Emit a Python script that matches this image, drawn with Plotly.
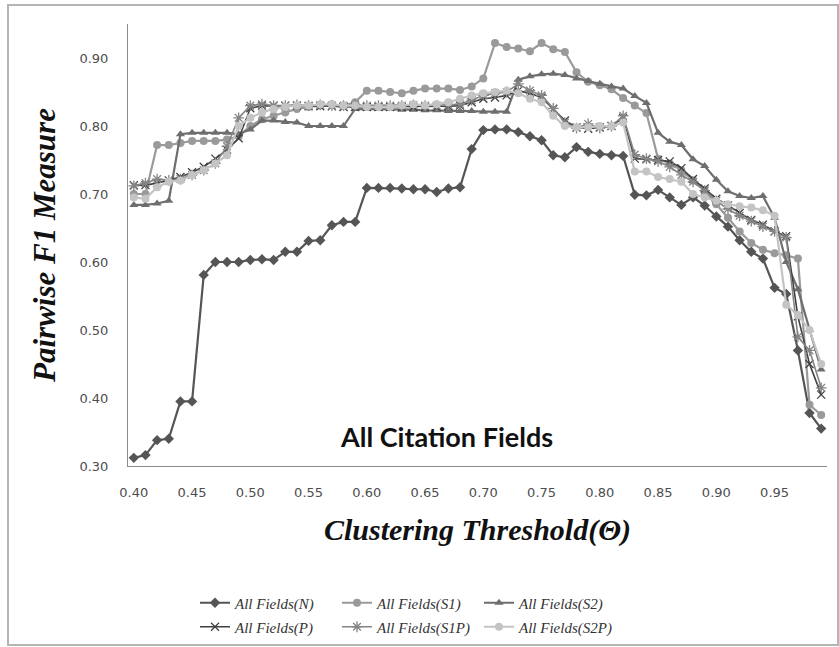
import plotly.graph_objects as go

thresholds = [0.40, 0.41, 0.42, 0.43, 0.44, 0.45, 0.46, 0.47, 0.48, 0.49,
              0.50, 0.51, 0.52, 0.53, 0.54, 0.55, 0.56, 0.57, 0.58, 0.59,
              0.60, 0.61, 0.62, 0.63, 0.64, 0.65, 0.66, 0.67, 0.68, 0.69,
              0.70, 0.71, 0.72, 0.73, 0.74, 0.75, 0.76, 0.77, 0.78, 0.79,
              0.80, 0.81, 0.82, 0.83, 0.84, 0.85, 0.86, 0.87, 0.88, 0.89,
              0.90, 0.91, 0.92, 0.93, 0.94, 0.95, 0.96, 0.97, 0.98, 0.99]

f1_N = [0.312, 0.316, 0.338, 0.340, 0.395, 0.395, 0.581, 0.600, 0.600, 0.600,
        0.603, 0.604, 0.603, 0.615, 0.615, 0.631, 0.632, 0.654, 0.659, 0.659,
        0.709, 0.709, 0.709, 0.708, 0.707, 0.707, 0.703, 0.708, 0.710, 0.766,
        0.794, 0.795, 0.795, 0.791, 0.785, 0.779, 0.757, 0.754, 0.769, 0.762,
        0.759, 0.757, 0.756, 0.699, 0.698, 0.706, 0.695, 0.684, 0.695, 0.683,
        0.667, 0.652, 0.632, 0.615, 0.605, 0.562, 0.553, 0.470, 0.378, 0.355]

f1_S1 = [0.700, 0.700, 0.772, 0.772, 0.775, 0.778, 0.778, 0.778, 0.780, 0.785,
         0.800, 0.810, 0.815, 0.820, 0.825, 0.828, 0.830, 0.832, 0.830, 0.835,
         0.852, 0.852, 0.850, 0.848, 0.852, 0.855, 0.855, 0.855, 0.853, 0.858,
         0.870, 0.922, 0.916, 0.914, 0.910, 0.922, 0.913, 0.909, 0.879, 0.865,
         0.860, 0.854, 0.841, 0.830, 0.819, 0.752, 0.745, 0.735, 0.720, 0.705,
         0.685, 0.665, 0.645, 0.628, 0.618, 0.613, 0.610, 0.605, 0.390, 0.375]

f1_S2 = [0.684, 0.684, 0.686, 0.690, 0.788, 0.790, 0.790, 0.790, 0.790, 0.788,
         0.795, 0.808, 0.808, 0.806, 0.805, 0.800, 0.800, 0.800, 0.800, 0.825,
         0.825, 0.825, 0.825, 0.824, 0.824, 0.823, 0.823, 0.822, 0.822, 0.822,
         0.821, 0.821, 0.821, 0.868, 0.873, 0.876, 0.877, 0.875, 0.870, 0.866,
         0.862, 0.858, 0.855, 0.844, 0.834, 0.790, 0.777, 0.772, 0.751, 0.741,
         0.721, 0.704, 0.697, 0.694, 0.697, 0.665, 0.600, 0.560, 0.500, 0.442]

f1_P = [0.713, 0.713, 0.716, 0.720, 0.725, 0.732, 0.740, 0.752, 0.765, 0.782,
        0.826, 0.830, 0.830, 0.830, 0.830, 0.829, 0.829, 0.829, 0.828, 0.828,
        0.828, 0.828, 0.828, 0.828, 0.828, 0.828, 0.828, 0.829, 0.830, 0.835,
        0.840, 0.842, 0.845, 0.852, 0.848, 0.842, 0.825, 0.808, 0.798, 0.796,
        0.798, 0.800, 0.812, 0.752, 0.751, 0.750, 0.748, 0.738, 0.722, 0.708,
        0.693, 0.683, 0.672, 0.662, 0.655, 0.645, 0.638, 0.520, 0.450, 0.405]

f1_S1P = [0.712, 0.716, 0.722, 0.720, 0.722, 0.728, 0.735, 0.745, 0.770, 0.812,
          0.830, 0.832, 0.830, 0.830, 0.831, 0.830, 0.831, 0.830, 0.830, 0.831,
          0.830, 0.830, 0.830, 0.830, 0.831, 0.830, 0.830, 0.831, 0.832, 0.838,
          0.845, 0.848, 0.850, 0.862, 0.852, 0.845, 0.826, 0.805, 0.797, 0.803,
          0.797, 0.800, 0.815, 0.758, 0.752, 0.748, 0.740, 0.728, 0.718, 0.705,
          0.690, 0.678, 0.668, 0.660, 0.652, 0.645, 0.636, 0.490, 0.470, 0.415]

f1_S2P = [0.695, 0.693, 0.710, 0.718, 0.720, 0.728, 0.735, 0.745, 0.757, 0.800,
          0.812, 0.820, 0.825, 0.828, 0.830, 0.830, 0.832, 0.832, 0.830, 0.830,
          0.828, 0.828, 0.828, 0.830, 0.832, 0.830, 0.832, 0.835, 0.840, 0.845,
          0.848, 0.850, 0.852, 0.848, 0.840, 0.835, 0.815, 0.800, 0.798, 0.798,
          0.800, 0.800, 0.805, 0.733, 0.733, 0.725, 0.722, 0.718, 0.700, 0.695,
          0.690, 0.685, 0.682, 0.680, 0.676, 0.668, 0.537, 0.522, 0.500, 0.450]

x_ticks = [0.40, 0.45, 0.50, 0.55, 0.60, 0.65, 0.70, 0.75, 0.80, 0.85, 0.90, 0.95]
y_ticks = [0.30, 0.40, 0.50, 0.60, 0.70, 0.80, 0.90]

series = [
    ("All Fields(N)", f1_N, "#555555", "diamond", 8, "legend"),
    ("All Fields(S1)", f1_S1, "#9a9a9a", "circle", 8, "legend"),
    ("All Fields(S2)", f1_S2, "#6e6e6e", "triangle-up", 8, "legend"),
    ("All Fields(P)", f1_P, "#404040", "x-thin-open", 8, "legend2"),
    ("All Fields(S1P)", f1_S1P, "#858585", "asterisk-open", 9, "legend2"),
    ("All Fields(S2P)", f1_S2P, "#c4c4c4", "circle", 8, "legend2"),
]

fig = go.Figure()
for name, ys, color, sym, size, leg in series:
    open_sym = sym.endswith("open")
    fig.add_trace(go.Scatter(
        x=thresholds, y=ys, name=name, mode="lines+markers",
        line=dict(color=color, width=2.2 if not open_sym else 1.6),
        marker=dict(symbol=sym, size=size, color=color,
                    line=dict(color=color, width=1.3 if open_sym else 0)),
        legend=leg,
    ))

legend_common = dict(
    orientation="h", xref="paper", yref="container", xanchor="left",
    yanchor="middle", entrywidth=97, entrywidthmode="pixels",
    font=dict(family="Liberation Serif", size=15, color="#333333", style="italic"),
    bgcolor="rgba(0,0,0,0)", itemwidth=30, tracegroupgap=0,
)

fig.update_layout(
    width=839, height=647,
    margin=dict(l=128, r=12, t=24, b=181),
    paper_bgcolor="white", plot_bgcolor="white",
    showlegend=True,
    legend=dict(x=(195 - 128) / 699, y=1 - 603 / 647, **legend_common),
    legend2=dict(x=(195 - 128) / 699, y=1 - 627 / 647, **legend_common),
    xaxis=dict(
        range=[0.395, 0.995], tickmode="array", tickvals=x_ticks,
        ticktext=[f"{v:.2f}" for v in x_ticks],
        showgrid=False, zeroline=False, showline=True, linecolor="#8c8c8c",
        linewidth=1, ticks="", ticklabelstandoff=14,
        tickfont=dict(family="DejaVu Sans", size=13, color="#4d4d4d"),
        title=dict(text="<b><i>Clustering Threshold(Θ)</i></b>", standoff=20,
                   font=dict(family="Liberation Serif", size=30, color="#111111")),
    ),
    yaxis=dict(
        range=[0.30, 0.95], tickmode="array", tickvals=y_ticks,
        ticktext=[f"{v:.2f}" for v in y_ticks],
        showgrid=False, zeroline=False, showline=True, linecolor="#8c8c8c",
        linewidth=1, ticks="", ticklabelstandoff=16,
        tickfont=dict(family="DejaVu Sans", size=13, color="#4d4d4d"),
        title=dict(text="<b><i>Pairwise F1 Measure</i></b>", standoff=14,
                   font=dict(family="Liberation Serif", size=31, color="#111111")),
    ),
    annotations=[dict(
        text="<b>All Citation Fields</b>", xref="paper", yref="paper",
        x=(446 - 128) / 699, y=(466 - 436) / 442, showarrow=False,
        xanchor="center", yanchor="middle",
        font=dict(family="Lato", size=27, color="#111111"),
    )],
    shapes=[dict(type="rect", xref="paper", yref="paper",
                 x0=-120 / 699, x1=710 / 699, y0=-179 / 442, y1=461 / 442,
                 line=dict(color="#b5b5b5", width=2), layer="below")],
)

fig.write_html("out.html")
